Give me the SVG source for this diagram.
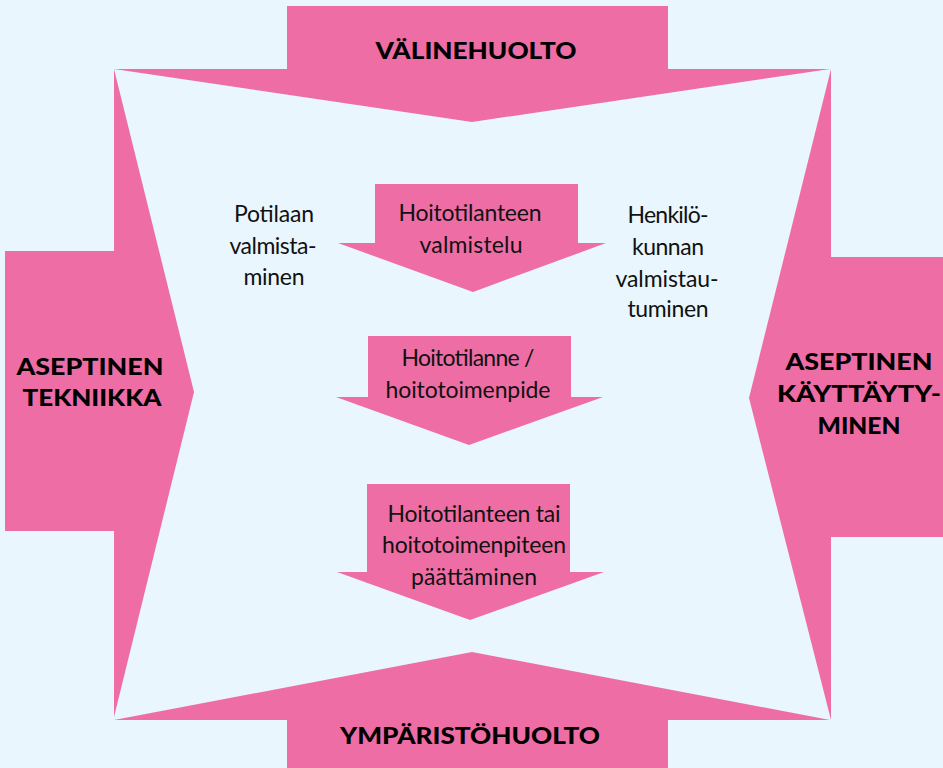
<svg xmlns="http://www.w3.org/2000/svg" width="943" height="768" viewBox="0 0 943 768">
<style>
.bg{fill:#E9F6FE}
.pk{fill:#EE6DA5}
.hd{font-family:Lato,"Liberation Sans",sans-serif;font-weight:900;font-size:23px;fill:#000;text-anchor:middle}
.tx{font-family:Lato,"Liberation Sans",sans-serif;font-weight:400;font-size:23px;fill:#111;text-anchor:middle}
</style>
<rect class="bg" x="0" y="0" width="943" height="768"/>
<g id="arrow-top">
<path class="pk" d="M287,6 H668 V69 H830 L472,122 L114,69 H287 Z"/>
<text class="hd" x="476" y="59" textLength="201" lengthAdjust="spacingAndGlyphs">VÄLINEHUOLTO</text>
</g>
<g id="arrow-left">
<path class="pk" d="M5,251 H114 V69 L194,392 L114,717 V531 H5 Z"/>
<text class="hd" x="90" y="375" textLength="147" lengthAdjust="spacingAndGlyphs">ASEPTINEN</text>
<text class="hd" x="92" y="406" textLength="139" lengthAdjust="spacingAndGlyphs">TEKNIIKKA</text>
</g>
<g id="arrow-right">
<path class="pk" d="M943,257 H831 V69 L749,398 L831,720 V537 H943 Z"/>
<text class="hd" x="859" y="370" textLength="147" lengthAdjust="spacingAndGlyphs">ASEPTINEN</text>
<text class="hd" x="859" y="402" textLength="164" lengthAdjust="spacingAndGlyphs">KÄYTTÄYTY-</text>
<text class="hd" x="859" y="434" textLength="83" lengthAdjust="spacingAndGlyphs">MINEN</text>
</g>
<g id="arrow-bottom">
<path class="pk" d="M287,768 H668 V720 H830 L472,652 L114,720 H287 Z"/>
<text class="hd" x="470" y="744" textLength="260" lengthAdjust="spacingAndGlyphs">YMPÄRISTÖHUOLTO</text>
</g>
<g id="step-1">
<path class="pk" d="M375,184 H578 V243 H606 L473,292 L338,243 H375 Z"/>
<text class="tx" x="470" y="221" textLength="143">Hoitotilanteen</text>
<text class="tx" x="471" y="253" textLength="103">valmistelu</text>
</g>
<g id="step-2">
<path class="pk" d="M368,336 H571 V397 H603 L469,445 L336,397 H368 Z"/>
<text class="tx" x="468" y="366" textLength="133">Hoitotilanne /</text>
<text class="tx" x="468" y="398" textLength="165">hoitotoimenpide</text>
</g>
<g id="step-3">
<path class="pk" d="M367,484 H570 V572 H604 L470,620 L337,572 H367 Z"/>
<text class="tx" x="474" y="522" textLength="173">Hoitotilanteen tai</text>
<text class="tx" x="474" y="553" textLength="184">hoitotoimenpiteen</text>
<text class="tx" x="474" y="585" textLength="126">päättäminen</text>
</g>
<g id="label-potilas">
<text class="tx" x="274" y="222" textLength="80">Potilaan</text>
<text class="tx" x="273" y="254" textLength="87">valmista-</text>
<text class="tx" x="274" y="285" textLength="61">minen</text>
</g>
<g id="label-henkilokunta">
<text class="tx" x="668" y="223" textLength="81">Henkilö-</text>
<text class="tx" x="668" y="255" textLength="72">kunnan</text>
<text class="tx" x="667" y="287" textLength="103">valmistau-</text>
<text class="tx" x="668" y="317" textLength="81">tuminen</text>
</g>
<g id="connectors"></g>
</svg>
